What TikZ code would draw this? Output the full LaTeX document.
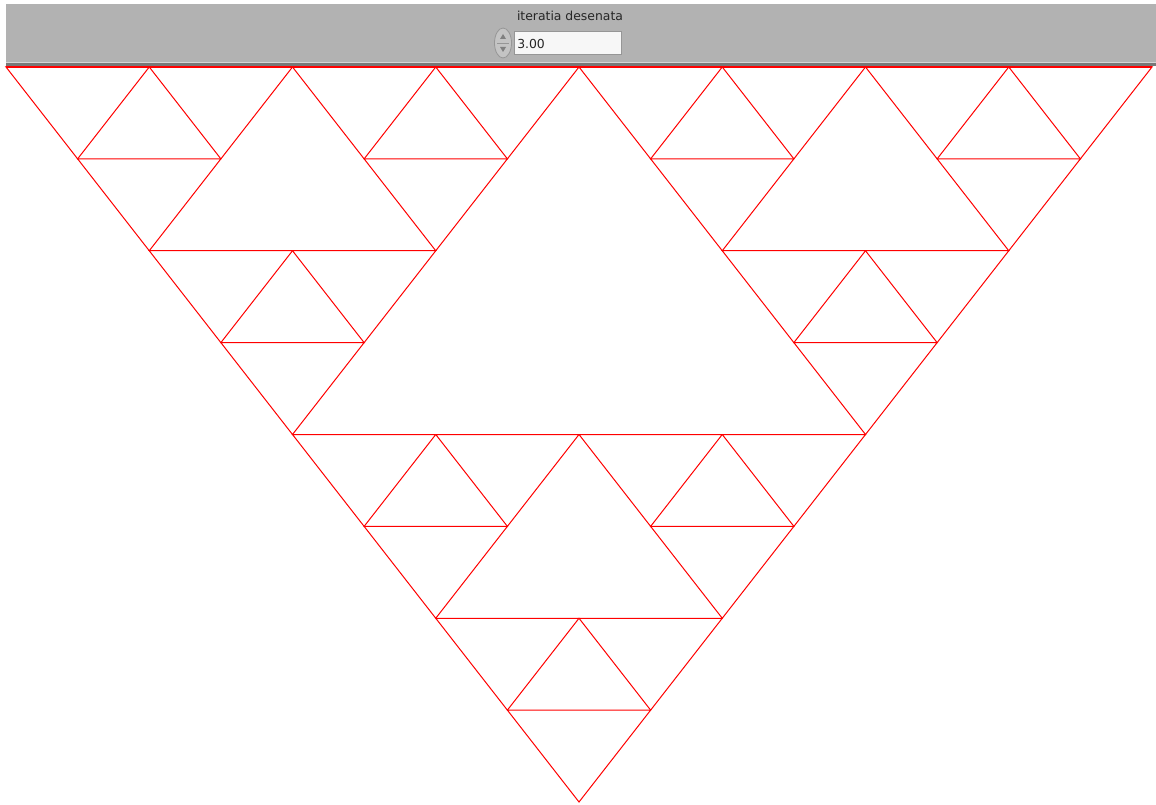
\documentclass[tikz,border=0pt]{standalone}
\usepackage{fontspec}
\setmainfont{DejaVu Sans}
\usetikzlibrary{positioning, calc}
\definecolor{panelgray}{RGB}{178,178,178}
\definecolor{panellight}{RGB}{214,214,214}
\definecolor{paneldark}{RGB}{120,120,120}
\definecolor{boxedge}{RGB}{150,150,150}
\definecolor{spingray}{RGB}{196,196,196}

\begin{document}
\begin{tikzpicture}
    [
        x=0.75pt, y=-0.75pt,
        edge/.style={draw=red, line width=0.75pt},
        ctrltext/.style={font=\fontsize{9.3}{11}\selectfont, inner sep=0pt, text=black!85},
        valuebox/.style={draw=boxedge, fill=white!97!black, line width=1pt,
                         minimum width=80pt, minimum height=17pt, inner sep=0pt},
        spinbox/.style={draw=boxedge, fill=spingray, line width=0.6pt}
    ]
        \useasboundingbox (0,0) rectangle (1156,805);
        \fill[white] (0,0) rectangle (1156,805);
        % --- panel ---
        \fill[panelgray] (6,4) rectangle (1156,62);
        \fill[panellight] (6,62) rectangle (1156,63.5);
        \fill[paneldark] (6,63.5) rectangle (1156,66);
        \node[ctrltext] (label) at (570,16) {iteratia desenata};
        \node[valuebox] (value) at (568,43) {};
        \node[ctrltext, anchor=west] (num) at (517,43.5) {3.00};
        \draw[spinbox] (503,43) ellipse [x radius=8.5, y radius=15];
        \coordinate (spin) at (503,43);
        \draw[boxedge] ($(spin)+(-6,0)$) -- ($(spin)+(6,0)$);
        \fill[gray] ($(spin)+(-3,-4)$) -- ($(spin)+(3,-4)$) -- ($(spin)+(0,-9)$) -- cycle;
        \fill[gray] ($(spin)+(-3,4)$) -- ($(spin)+(3,4)$) -- ($(spin)+(0,9)$) -- cycle;
        % --- sierpinski, 3 iterations ---
        \begin{scope}[shift={(6,67)}, x=107.4375pt, y=-68.90625pt]
            \foreach \ax/\ay in {0/0, 4/0, 2/4}
                \foreach \bx/\by in {0/0, 2/0, 1/2}
                    \foreach \cx/\cy in {0/0, 1/0, 0.5/1}
                        \draw[edge] (\ax+\bx+\cx, \ay+\by+\cy) -- ++(1,0) -- ++(-0.5,1) -- cycle;
            \draw[edge, line width=1.5pt] (0,0) -- (8,0);
        \end{scope}
    \end{tikzpicture}
\end{document}
